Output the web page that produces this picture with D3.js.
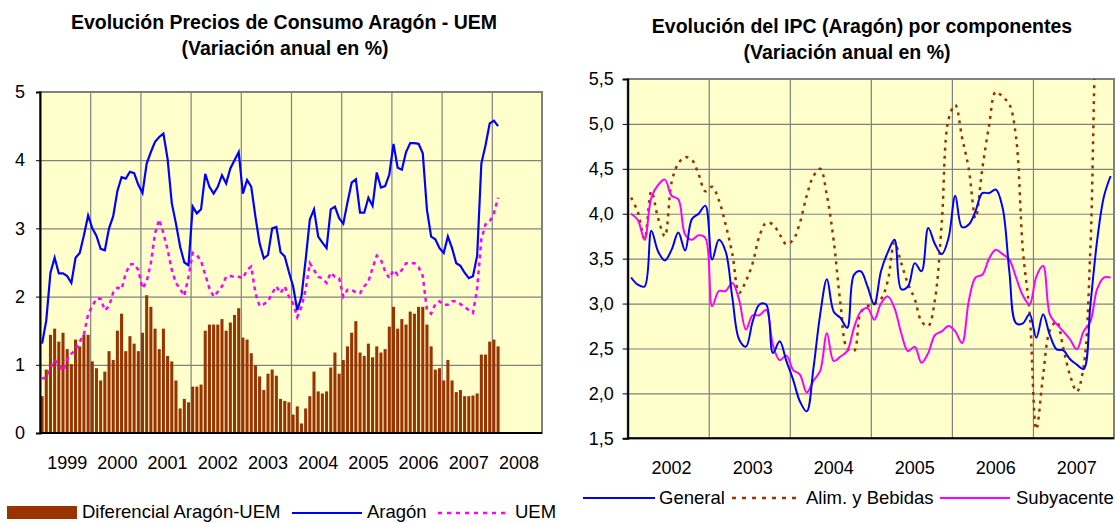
<!DOCTYPE html>
<html>
<head>
<meta charset="utf-8">
<script src="https://cdnjs.cloudflare.com/ajax/libs/d3/7.8.5/d3.min.js"></script>
<style>
body { margin: 0; background: #fff; }
svg text { font-family: "Liberation Sans", Arial, sans-serif; fill: #000; }
</style>
</head>
<body>
<div id="chart"></div>
<script>
// ---- datos grafico izquierdo (mensual desde ene 1999)
const anosIzq = ["1999", "2000", "2001", "2002", "2003", "2004", "2005", "2006", "2007", "2008"];

const diferencial = [
    0.54, 0.93, 1.44, 1.53, 1.34, 1.47, 1.23, 1.01, 1.37, 1.27, 1.44, 1.44,
    1.05, 0.95, 0.77, 0.90, 1.20, 1.07, 1.50, 1.75, 1.20, 1.42, 1.31, 1.20,
    1.47, 2.02, 1.85, 1.53, 1.23, 1.53, 1.13, 1.05, 0.77, 0.36, 0.50, 0.45,
    0.68, 0.68, 0.71, 1.50, 1.59, 1.59, 1.59, 1.67, 1.50, 1.62, 1.73, 1.83,
    1.40, 1.37, 1.17, 0.99, 0.83, 0.63, 0.87, 0.93, 0.84, 0.50, 0.47, 0.45,
    0.27, 0.39, 0.14, 0.36, 0.54, 0.90, 0.61, 0.58, 0.61, 0.96, 1.18, 0.87,
    1.07, 1.27, 1.47, 1.64, 1.18, 1.13, 1.31, 1.11, 1.27, 1.18, 1.23, 1.56,
    1.85, 1.53, 1.67, 1.59, 1.78, 1.75, 1.85, 1.85, 1.59, 1.27, 0.93, 0.95,
    0.77, 1.07, 0.77, 0.60, 0.63, 0.54, 0.54, 0.55, 0.58, 1.15, 1.15, 1.34,
    1.37, 1.27
];

const aragon = [
    1.31, 1.65, 2.35, 2.57, 2.34, 2.34, 2.30, 2.20, 2.57, 2.64, 2.90, 3.19,
    3.00, 2.89, 2.70, 2.68, 3.00, 3.18, 3.55, 3.75, 3.73, 3.83, 3.81, 3.64,
    3.52, 3.95, 4.12, 4.27, 4.34, 4.39, 4.02, 3.37, 3.07, 2.73, 2.50, 2.46,
    3.32, 3.22, 3.28, 3.80, 3.61, 3.51, 3.61, 3.78, 3.66, 3.88, 4.00, 4.12,
    3.51, 3.71, 3.61, 3.17, 2.78, 2.56, 2.61, 3.00, 3.02, 2.65, 2.59, 2.36,
    2.15, 1.80, 2.00, 2.54, 3.13, 3.28, 2.88, 2.79, 2.71, 3.28, 3.32, 3.15,
    3.07, 3.38, 3.67, 3.72, 3.23, 3.23, 3.45, 3.33, 3.82, 3.60, 3.62, 3.79,
    4.24, 3.89, 3.86, 4.12, 4.25, 4.25, 4.24, 4.10, 3.27, 2.88, 2.84, 2.71,
    2.64, 2.88, 2.71, 2.49, 2.45, 2.35, 2.27, 2.30, 2.60, 3.95, 4.22, 4.54,
    4.58, 4.50
];

const uem = [
    0.80, 0.81, 0.95, 1.07, 1.01, 0.91, 1.08, 1.16, 1.22, 1.34, 1.45, 1.74,
    1.86, 1.97, 1.97, 1.80, 1.86, 2.06, 2.13, 2.11, 2.34, 2.47, 2.48, 2.39,
    2.12, 2.22, 2.49, 2.93, 3.13, 2.93, 2.69, 2.39, 2.20, 2.11, 2.01, 2.29,
    2.64, 2.61, 2.52, 2.32, 2.12, 2.00, 2.07, 2.15, 2.29, 2.30, 2.29, 2.29,
    2.27, 2.39, 2.44, 2.05, 1.86, 1.89, 1.93, 2.05, 2.15, 2.05, 2.15, 2.00,
    1.90, 1.70, 1.85, 2.10, 2.49, 2.39, 2.29, 2.27, 2.20, 2.35, 2.29, 2.27,
    2.00, 2.10, 2.10, 2.06, 2.05, 2.15, 2.22, 2.42, 2.60, 2.54, 2.37, 2.27,
    2.39, 2.32, 2.39, 2.49, 2.49, 2.49, 2.43, 2.30, 1.80, 1.75, 1.89, 1.93,
    1.88, 1.88, 1.93, 1.93, 1.89, 1.85, 1.80, 1.76, 2.12, 2.84, 3.06, 3.10,
    3.22, 3.45
];

// ---- datos grafico derecho (mensual desde ene 2002)
const anosDer = ["2002", "2003", "2004", "2005", "2006", "2007"];

const general = [
    3.29, 3.21, 3.19, 3.81, 3.58, 3.48, 3.60, 3.79, 3.59, 3.94, 4.00, 4.09,
    3.49, 3.71, 3.58, 3.06, 2.60, 2.52, 2.80, 2.99, 2.99, 2.45, 2.58, 2.36,
    2.15, 1.91, 1.80, 2.28, 2.88, 3.27, 2.91, 2.84, 2.73, 3.32, 3.36, 3.19,
    2.99, 3.36, 3.57, 3.71, 3.16, 3.19, 3.45, 3.36, 3.84, 3.66, 3.55, 3.73,
    4.20, 3.85, 3.88, 4.03, 4.23, 4.23, 4.27, 4.07, 3.36, 2.78, 2.78, 2.88,
    2.62, 2.88, 2.65, 2.49, 2.48, 2.38, 2.32, 2.27, 2.98, 3.70, 4.19, 4.42
];

const alimentos = [
    4.18, 4.02, 3.72, 4.25, 3.95, 3.75, 4.35, 4.56, 4.63, 4.60, 4.44, 4.25,
    4.30, 4.15, 3.88, 3.55, 3.12, 3.25, 3.45, 3.75, 3.90, 3.88, 3.77, 3.66,
    3.71, 3.90, 4.20, 4.42, 4.50, 4.20, 3.70, 3.00, 2.50, 2.47, 2.90, 2.97,
    3.00, 3.05, 3.25, 3.68, 3.45, 3.22, 3.05, 2.80, 2.75, 3.05, 3.90, 5.05,
    5.21, 4.85, 4.50, 3.95, 4.50, 4.98, 5.36, 5.30, 5.22, 4.85, 3.60, 2.90,
    1.60, 2.20, 2.70, 2.80, 2.50, 2.20, 2.02, 2.30, 3.60, 6.30, 7.00, 7.40
];

const subyacente = [
    4.00, 3.93, 3.71, 4.18, 4.32, 4.38, 4.20, 4.16, 3.77, 3.71, 3.76, 3.73,
    2.97, 3.14, 3.14, 3.23, 3.04, 2.71, 2.87, 2.87, 2.93, 2.54, 2.37, 2.42,
    2.26, 2.21, 2.01, 2.14, 2.25, 2.67, 2.36, 2.41, 2.47, 2.73, 2.91, 2.95,
    2.82, 3.00, 3.08, 2.95, 2.67, 2.47, 2.52, 2.34, 2.45, 2.65, 2.69, 2.75,
    2.69, 2.56, 3.03, 3.29, 3.32, 3.50, 3.60, 3.55, 3.49, 3.29, 3.09, 2.99,
    3.30, 3.42, 2.88, 2.77, 2.69, 2.60, 2.49, 2.69, 2.80, 3.16, 3.29, 3.29
];

const fondo = "#ffffcc";
const rejilla = "#808080";
const marron = "#993300";
const fontTick = "18px";
const fontLeyenda = "18.5px";
const fontTitulo = "19.5px";

const es = d3.formatLocale({ decimal: ",", thousands: ".", grouping: [3], currency: ["", " €"] });

const svg = d3.select("#chart").append("svg")
    .attr("width", 1117)
    .attr("height", 523);

// ================= grafico izquierdo =================
const izq = { x0: 40, x1: 542, y0: 92, y1: 433 };
const xL = d3.scaleLinear().domain([0, 120]).range([izq.x0, izq.x1]);
const yL = d3.scaleLinear().domain([0, 5]).range([izq.y1, izq.y0]);
const bandL = d3.scaleBand().domain(d3.range(120)).range([izq.x0, izq.x1])
    .paddingInner(0.27).paddingOuter(0.135);

const gL = svg.append("g");

gL.append("rect")
    .attr("x", izq.x0).attr("y", izq.y0)
    .attr("width", izq.x1 - izq.x0).attr("height", izq.y1 - izq.y0)
    .attr("fill", fondo);

// rejilla horizontal
gL.append("g")
    .attr("transform", "translate(" + izq.x0 + ",0)")
    .call(d3.axisLeft(yL).tickValues([1, 2, 3, 4]).tickSize(-(izq.x1 - izq.x0)).tickFormat(""))
    .call(g => g.select(".domain").remove())
    .selectAll("line").attr("stroke", rejilla).attr("stroke-width", 1.2);

// rejilla vertical, una por año
gL.append("g")
    .attr("transform", "translate(0," + izq.y0 + ")")
    .call(d3.axisTop(xL).tickValues(d3.range(12, 120, 12)).tickSize(-(izq.y1 - izq.y0)).tickFormat(""))
    .call(g => g.select(".domain").remove())
    .selectAll("line").attr("stroke", rejilla).attr("stroke-width", 1.2);

// barras del diferencial
gL.append("g")
    .selectAll("rect")
    .data(diferencial)
    .enter()
    .append("rect")
    .attr("x", (d, i) => bandL(i))
    .attr("width", bandL.bandwidth())
    .attr("y", d => yL(d))
    .attr("height", d => yL(0) - yL(d))
    .attr("fill", marron);

// marco gris
gL.append("rect")
    .attr("x", izq.x0).attr("y", izq.y0)
    .attr("width", izq.x1 - izq.x0).attr("height", izq.y1 - izq.y0)
    .attr("fill", "none")
    .attr("stroke", rejilla)
    .attr("stroke-width", 2);

const lineaL = d3.line()
    .x((d, i) => xL(i + 0.5))
    .y(d => yL(d));

gL.append("path")
    .datum(uem)
    .attr("d", lineaL)
    .attr("fill", "none")
    .attr("stroke", "#ff00ff")
    .attr("stroke-width", 2.5)
    .attr("stroke-dasharray", "4,4");

gL.append("path")
    .datum(aragon)
    .attr("d", lineaL)
    .attr("fill", "none")
    .attr("stroke", "#0000ff")
    .attr("stroke-width", 2.2);

// ejes
gL.append("g")
    .attr("transform", "translate(" + izq.x0 + ",0)")
    .call(d3.axisLeft(yL).tickValues([0, 1, 2, 3, 4, 5]).tickSize(4).tickPadding(11).tickFormat(d3.format("d")))
    .call(g => g.select(".domain").attr("stroke", "#000").attr("stroke-width", 2))
    .call(g => g.selectAll("text").style("font-size", fontTick));

gL.append("line")
    .attr("x1", izq.x0).attr("x2", izq.x1)
    .attr("y1", izq.y1).attr("y2", izq.y1)
    .attr("stroke", "#000").attr("stroke-width", 2);

gL.append("g")
    .selectAll("text")
    .data(anosIzq)
    .enter()
    .append("text")
    .attr("x", (d, i) => xL(i * 12 + 6.5))
    .attr("y", 469)
    .attr("text-anchor", "middle")
    .style("font-size", fontTick)
    .text(d => d);

// titulo
gL.append("text").attr("x", 284).attr("y", 29).attr("text-anchor", "middle")
    .style("font-size", fontTitulo).style("font-weight", "bold")
    .text("Evolución Precios de Consumo Aragón - UEM");
gL.append("text").attr("x", 285).attr("y", 55).attr("text-anchor", "middle")
    .style("font-size", fontTitulo).style("font-weight", "bold")
    .text("(Variación anual en %)");

// leyenda
gL.append("rect").attr("x", 7).attr("y", 506).attr("width", 70).attr("height", 13).attr("fill", marron);
gL.append("text").attr("x", 82).attr("y", 518).style("font-size", fontLeyenda).text("Diferencial Aragón-UEM");
gL.append("line").attr("x1", 292).attr("x2", 362).attr("y1", 513).attr("y2", 513)
    .attr("stroke", "#0000ff").attr("stroke-width", 2);
gL.append("text").attr("x", 367).attr("y", 518).style("font-size", fontLeyenda).text("Aragón");
gL.append("line").attr("x1", 438).attr("x2", 506).attr("y1", 513).attr("y2", 513)
    .attr("stroke", "#ff00ff").attr("stroke-width", 2.5).attr("stroke-dasharray", "4,5");
gL.append("text").attr("x", 515).attr("y", 518).style("font-size", fontLeyenda).text("UEM");

// ================= grafico derecho =================
const der = { x0: 627.7, x1: 1114, y0: 79, y1: 438.3 };
const xR = d3.scaleLinear().domain([0, 72]).range([der.x0, der.x1]);
const yR = d3.scaleLinear().domain([1.5, 5.5]).range([der.y1, der.y0]);

const gR = svg.append("g");

gR.append("defs").append("clipPath").attr("id", "recorte")
    .append("rect")
    .attr("x", der.x0).attr("y", der.y0)
    .attr("width", der.x1 - der.x0).attr("height", der.y1 - der.y0);

gR.append("rect")
    .attr("x", der.x0).attr("y", der.y0)
    .attr("width", der.x1 - der.x0).attr("height", der.y1 - der.y0)
    .attr("fill", fondo);

gR.append("g")
    .attr("transform", "translate(" + der.x0 + ",0)")
    .call(d3.axisLeft(yR).tickValues(d3.range(2, 5.01, 0.5)).tickSize(-(der.x1 - der.x0)).tickFormat(""))
    .call(g => g.select(".domain").remove())
    .selectAll("line").attr("stroke", rejilla).attr("stroke-width", 1.2);

gR.append("g")
    .attr("transform", "translate(0," + der.y0 + ")")
    .call(d3.axisTop(xR).tickValues(d3.range(12, 72, 12)).tickSize(-(der.y1 - der.y0)).tickFormat(""))
    .call(g => g.select(".domain").remove())
    .selectAll("line").attr("stroke", rejilla).attr("stroke-width", 1.2);

gR.append("rect")
    .attr("x", der.x0).attr("y", der.y0)
    .attr("width", der.x1 - der.x0).attr("height", der.y1 - der.y0)
    .attr("fill", "none")
    .attr("stroke", rejilla)
    .attr("stroke-width", 2);

const lineaR = d3.line()
    .x((d, i) => xR(i + 0.5))
    .y(d => yR(d))
    .curve(d3.curveCatmullRom.alpha(0.5));

const lineas = gR.append("g").attr("clip-path", "url(#recorte)");

lineas.append("path")
    .datum(alimentos)
    .attr("d", lineaR)
    .attr("fill", "none")
    .attr("stroke", marron)
    .attr("stroke-width", 2.5)
    .attr("stroke-dasharray", "3,5");

lineas.append("path")
    .datum(subyacente)
    .attr("d", lineaR)
    .attr("fill", "none")
    .attr("stroke", "#ff00ff")
    .attr("stroke-width", 2);

lineas.append("path")
    .datum(general)
    .attr("d", lineaR)
    .attr("fill", "none")
    .attr("stroke", "#0000ff")
    .attr("stroke-width", 2);

gR.append("g")
    .attr("transform", "translate(" + der.x0 + ",0)")
    .call(d3.axisLeft(yR).tickValues(d3.range(1.5, 5.51, 0.5)).tickSize(5).tickPadding(9).tickFormat(es.format(".1f")))
    .call(g => g.select(".domain").attr("stroke", "#000").attr("stroke-width", 2))
    .call(g => g.selectAll("text").style("font-size", fontTick));

gR.append("line")
    .attr("x1", der.x0).attr("x2", der.x1)
    .attr("y1", der.y1).attr("y2", der.y1)
    .attr("stroke", "#000").attr("stroke-width", 2);

gR.append("g")
    .selectAll("text")
    .data(anosDer)
    .enter()
    .append("text")
    .attr("x", (d, i) => xR(i * 12 + 6.5))
    .attr("y", 474)
    .attr("text-anchor", "middle")
    .style("font-size", fontTick)
    .text(d => d);

gR.append("text").attr("x", 862).attr("y", 33).attr("text-anchor", "middle")
    .style("font-size", fontTitulo).style("font-weight", "bold")
    .text("Evolución del IPC (Aragón) por componentes");
gR.append("text").attr("x", 847).attr("y", 59).attr("text-anchor", "middle")
    .style("font-size", fontTitulo).style("font-weight", "bold")
    .text("(Variación anual en %)");

// leyenda
gR.append("line").attr("x1", 583).attr("x2", 655).attr("y1", 498).attr("y2", 498)
    .attr("stroke", "#0000ff").attr("stroke-width", 2);
gR.append("text").attr("x", 659).attr("y", 504).style("font-size", fontLeyenda).text("General");
gR.append("line").attr("x1", 732).attr("x2", 797).attr("y1", 498).attr("y2", 498)
    .attr("stroke", marron).attr("stroke-width", 2.5).attr("stroke-dasharray", "4,6");
gR.append("text").attr("x", 806).attr("y", 504).style("font-size", fontLeyenda).text("Alim. y Bebidas");
gR.append("line").attr("x1", 940).attr("x2", 1010).attr("y1", 498).attr("y2", 498)
    .attr("stroke", "#ff00ff").attr("stroke-width", 2);
gR.append("text").attr("x", 1016).attr("y", 504).style("font-size", fontLeyenda).text("Subyacente");
</script>
</body>
</html>
